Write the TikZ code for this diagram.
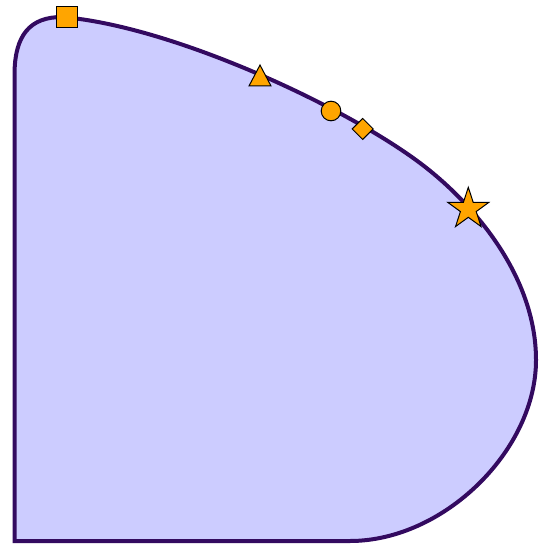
\documentclass[tikz,border=0pt]{standalone}
\begin{document}
\begin{tikzpicture}[x=1pt,y=-1pt]
\definecolor{shapefill}{RGB}{204,204,255}
\definecolor{shapeline}{RGB}{51,10,96}
\definecolor{markfill}{RGB}{255,165,0}
\tikzset{
  outline/.style={draw=shapeline,fill=shapefill,line width=4pt},
  marker/.style={draw=black,fill=markfill,line width=1pt}
}
\useasboundingbox (0,0) rectangle (538,545);
% main shape
\draw[outline] (14.5,541) -- (14.5,75)
  .. controls (14.5,35) and (30,17) .. (62,17)
  .. controls (172,26) and (344,106) .. (420,163)
  .. controls (472,202) and (536,275) .. (536,360)
  .. controls (536,450.5) and (443.5,541) .. (350,541)
  -- cycle;
% markers
\draw[marker] (56.7,7) rectangle (77.7,28);
\draw[marker] (260,65) -- (249,86) -- (271,86) -- cycle;
\draw[marker] (331,111) circle[radius=9.8];
\draw[marker] (362.7,118.5) -- (373.2,129) -- (362.7,139.5) -- (352.2,129) -- cycle;
\draw[marker,shift={(468.3,209)}] (-90:21.7) -- (-54:8.3) -- (-18:21.7) -- (18:8.3) -- (54:21.7) -- (90:8.3) -- (126:21.7) -- (162:8.3) -- (198:21.7) -- (234:8.3) -- cycle;
\end{tikzpicture}
\end{document}
